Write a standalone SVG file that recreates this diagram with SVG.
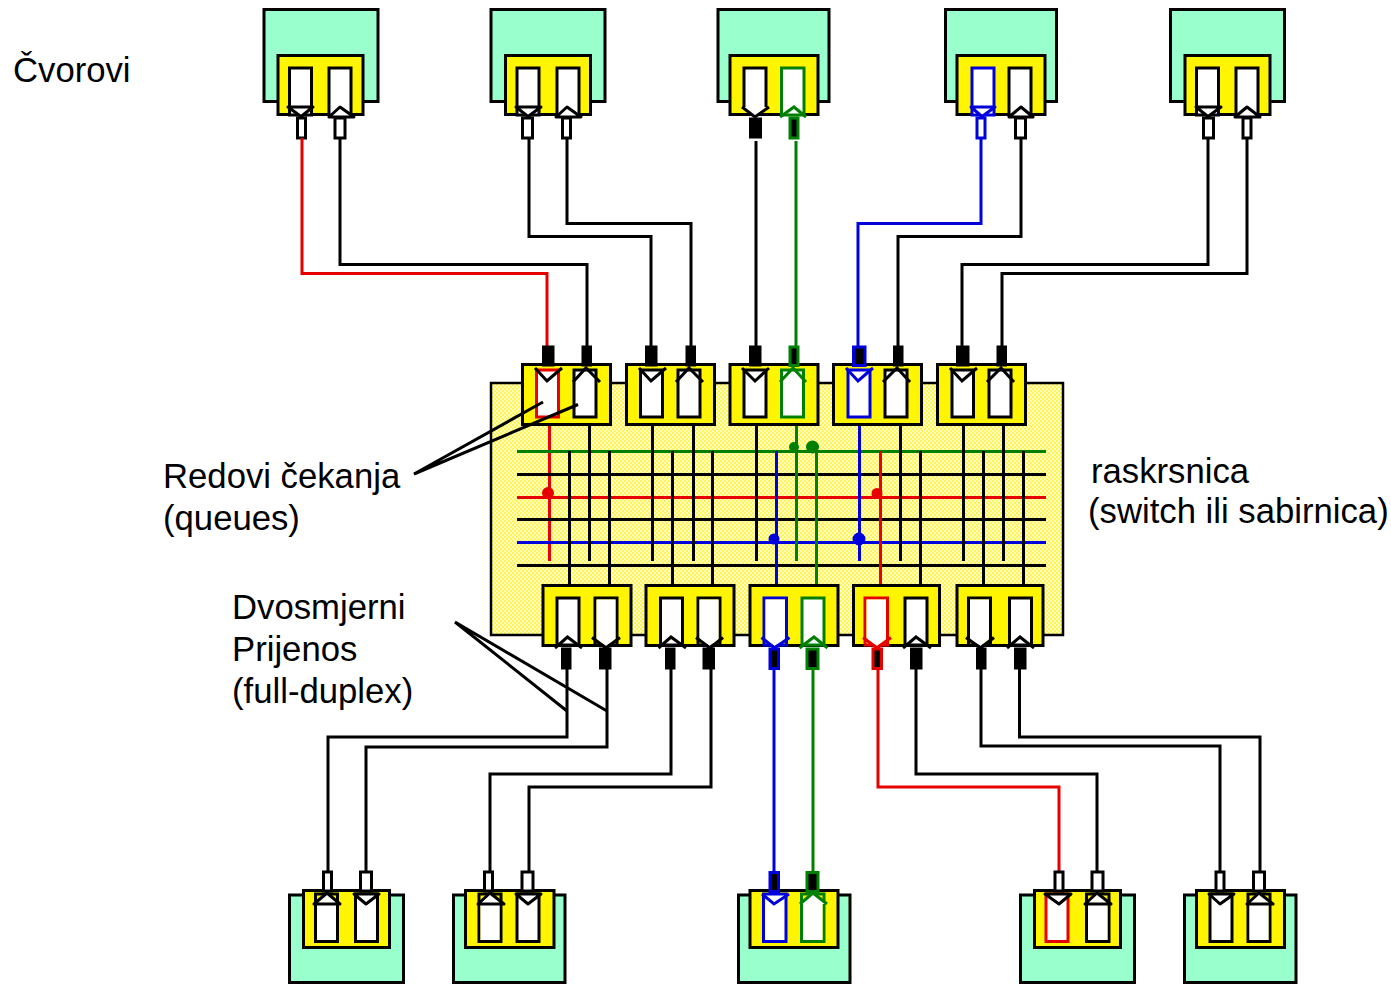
<svg xmlns="http://www.w3.org/2000/svg" width="1391" height="984" viewBox="0 0 1391 984">
<style>
text{font-family:"Liberation Sans",Arial,sans-serif;font-size:34.7px;fill:#000}
.n{fill:#99ffcc;stroke:#000;stroke-width:3}
.y{fill:#fff500;stroke:#000;stroke-width:3}
.q{fill:#fff;stroke:#000;stroke-width:3}
.qy{fill:#fff500;stroke:#000;stroke-width:3}
.w{fill:#fff;stroke:none}
.a{fill:#fff;stroke:#000;stroke-width:3;stroke-linejoin:round}
.l{fill:none;stroke:#000;stroke-width:3}
.p{fill:#fff;stroke:#000;stroke-width:3}
.f{fill:#000;stroke:#000;stroke-width:1}
.r{stroke:#e60000}
.b{stroke:#0000dd}
.g{stroke:#008000}
.k{fill:#000}
</style>
<defs>
<pattern id="dither" width="4" height="4" patternUnits="userSpaceOnUse">
<rect width="4" height="4" fill="#fffcc0"/>
<rect width="2" height="2" fill="#fff45a"/>
<rect x="2" y="2" width="2" height="2" fill="#fff45a"/>
</pattern>
</defs>

<g id="switch">
<rect x="491" y="383" width="572" height="252" fill="url(#dither)" stroke="#000" stroke-width="2.5"/>
</g>

<g id="top-nodes">
<g id="node-t1">
<rect class="n" x="264" y="9.5" width="114" height="92"/>
<rect class="y" x="278" y="55.5" width="85" height="59"/>
<rect class="q" x="289.500" y="68" width="22" height="47"/>
<rect class="q" x="329" y="68" width="22" height="47"/>
<polygon class="a" points="288,107 313,107 301,116.500"/>
<polygon class="a" points="329,117 340,107 354,117"/>
<rect class="p" x="297.500" y="118" width="8" height="20"/>
<rect class="p" x="335" y="118" width="10" height="20"/>
</g>
<g id="node-t2">
<rect class="n" x="491" y="9.500" width="114" height="92"/>
<rect class="y" x="505.500" y="55.5" width="85" height="59"/>
<rect class="q" x="517" y="68" width="22" height="47"/>
<rect class="q" x="557" y="68" width="22" height="47"/>
<polygon class="a" points="516,107 541,107 528,116.500"/>
<polygon class="a" points="556,117 567,107 581,117"/>
<rect class="p" x="522.500" y="118" width="10" height="20"/>
<rect class="p" x="562.500" y="118" width="8" height="20"/>
</g>
<g id="node-t3">
<rect class="n" x="718" y="9.500" width="111" height="92"/>
<rect class="y" x="730" y="55.5" width="88" height="59"/>
<polygon class="w" points="744,68 766,68 766,107 755,116 744,107"/>
<path class="l" d="M744 107V68H766V107"/>
<rect class="q g" x="781.500" y="68" width="22.500" height="47"/>
<polyline class="l" points="742,107 755,117 769,107"/>
<polyline class="l g" points="780,117 794,107 806,117"/>
<rect class="f" x="749.500" y="118" width="12" height="20"/>
<rect class="p g k" x="790" y="118" width="8" height="20"/>
</g>
<g id="node-t4">
<rect class="n" x="945.500" y="9.500" width="111" height="92"/>
<rect class="y" x="957" y="55.5" width="88" height="59"/>
<rect class="q b" x="972" y="68" width="22" height="47"/>
<rect class="q" x="1009" y="68" width="22" height="47"/>
<polygon class="a b" points="971,107 995,107 982,116.500"/>
<polygon class="a" points="1009,117 1021,107 1033,117"/>
<rect class="p b" x="977" y="118" width="8" height="20"/>
<rect class="p" x="1015.500" y="118" width="10" height="20"/>
</g>
<g id="node-t5">
<rect class="n" x="1170.500" y="9.500" width="114" height="92"/>
<rect class="y" x="1185" y="55.5" width="85" height="59"/>
<rect class="q" x="1196.500" y="68" width="22" height="47"/>
<rect class="q" x="1236" y="68" width="22" height="47"/>
<polygon class="a" points="1196,107 1221,107 1208,116.500"/>
<polygon class="a" points="1235,117 1247,107 1260,117"/>
<rect class="p" x="1203.500" y="118" width="10" height="20"/>
<rect class="p" x="1243" y="118" width="8" height="20"/>
</g>
</g>

<g id="connectors">
<g id="wires">
<polyline class="l r" points="302,138 302,273.500 547,273.500 547,347"/>
<polyline class="l" points="340,138 340,264.500 587,264.500 587,347"/>
<polyline class="l" points="529,138 529,236.500 651,236.500 651,347"/>
<polyline class="l" points="567,138 567,223.500 691,223.500 691,347"/>
<polyline class="l" points="756,141 756,347"/>
<polyline class="l g" points="796,141 796,347"/>
<polyline class="l b" points="981,138 981,223.500 858,223.500 858,347"/>
<polyline class="l" points="1021,138 1021,236.500 898,236.500 898,347"/>
<polyline class="l" points="1208,138 1208,264.500 962,264.500 962,347"/>
<polyline class="l" points="1247,138 1247,273.500 1002,273.500 1002,347"/>
<polyline class="l" points="567,669 567,737 328,737 328,872"/>
<polyline class="l" points="607,669 607,747 366,747 366,872"/>
<polyline class="l" points="671,669 671,774 490,774 490,872"/>
<polyline class="l" points="711,669 711,787 529,787 529,872"/>
<polyline class="l b" points="774,669 774,872"/>
<polyline class="l g" points="813,669 813,872"/>
<polyline class="l r" points="878,669 878,787 1059,787 1059,872"/>
<polyline class="l" points="916,669 916,774 1097,774 1097,872"/>
<polyline class="l" points="981,669 981,746 1220,746 1220,872"/>
<polyline class="l" points="1019.500,669 1019.500,737 1260,737 1260,872"/>
</g>
<g id="dots">
<circle cx="548" cy="493" r="6" fill="#e60000"/>
<circle cx="877" cy="493.500" r="5.500" fill="#e60000"/>
<circle cx="774" cy="539" r="5.500" fill="#0000dd"/>
<circle cx="859" cy="539" r="6.500" fill="#0000dd"/>
<circle cx="794" cy="447" r="5" fill="#008000"/>
<circle cx="812.500" cy="447" r="6.500" fill="#008000"/>
</g>
<g id="bus">
<line class="l r" x1="549.500" y1="420" x2="549.500" y2="561"/>
<line class="l" x1="517" y1="474.500" x2="1046" y2="474.500"/>
<line class="l r" x1="517" y1="497.500" x2="1046" y2="497.500"/>
<line class="l" x1="517" y1="519.500" x2="1046" y2="519.500"/>
<line class="l b" x1="517" y1="542.500" x2="1046" y2="542.500"/>
<line class="l" x1="517" y1="565.500" x2="1046" y2="565.500"/>
<line class="l g" x1="517" y1="451.500" x2="1046" y2="451.500"/>
<line class="l" x1="589.500" y1="420" x2="589.500" y2="561"/>
<line class="l" x1="652.500" y1="420" x2="652.500" y2="561"/>
<line class="l" x1="693.500" y1="420" x2="693.500" y2="561"/>
<line class="l" x1="756.500" y1="420" x2="756.500" y2="561"/>
<line class="l g" x1="796.500" y1="420" x2="796.500" y2="561"/>
<line class="l b" x1="859.500" y1="420" x2="859.500" y2="561"/>
<line class="l" x1="900.500" y1="420" x2="900.500" y2="561"/>
<line class="l" x1="963.500" y1="420" x2="963.500" y2="561"/>
<line class="l" x1="1003.500" y1="420" x2="1003.500" y2="561"/>
<line class="l" x1="569.500" y1="451" x2="569.500" y2="594"/>
<line class="l" x1="609.500" y1="451" x2="609.500" y2="594"/>
<line class="l" x1="672.500" y1="451" x2="672.500" y2="594"/>
<line class="l" x1="712.500" y1="451" x2="712.500" y2="594"/>
<line class="l b" x1="776.500" y1="451" x2="776.500" y2="594"/>
<line class="l g" x1="816.500" y1="451" x2="816.500" y2="594"/>
<line class="l r" x1="880.500" y1="451" x2="880.500" y2="594"/>
<line class="l" x1="920.500" y1="451" x2="920.500" y2="594"/>
<line class="l" x1="983.500" y1="451" x2="983.500" y2="594"/>
<line class="l" x1="1023.500" y1="451" x2="1023.500" y2="594"/>
</g>
</g>

<g id="switch-top-ports">
<g id="st1">
<rect class="y" x="522.500" y="364.500" width="88" height="60"/>
<rect class="q r" x="536.500" y="370" width="22" height="47"/>
<rect class="q" x="574" y="370" width="22" height="47"/>
<polyline class="l" points="535,368 547,381 562,368"/>
<polyline class="l" points="573,382 586,368 600,382"/>
<rect class="f" x="542.500" y="346" width="11.500" height="20"/>
<rect class="f" x="582" y="346" width="9.500" height="20"/>
</g>
<g id="st2">
<rect class="y" x="626.500" y="364.500" width="88" height="60"/>
<rect class="q" x="640.500" y="370" width="22" height="47"/>
<rect class="q" x="678" y="370" width="22" height="47"/>
<polyline class="l" points="639,368 651,381 666,368"/>
<polyline class="l" points="676,382 689,368 703,382"/>
<rect class="f" x="645.500" y="346" width="11.500" height="20"/>
<rect class="f" x="686" y="346" width="9.500" height="20"/>
</g>
<g id="st3">
<rect class="y" x="730" y="364.500" width="88" height="60"/>
<rect class="q" x="744" y="370" width="22" height="47"/>
<rect class="q g" x="781.500" y="370" width="22" height="47"/>
<polyline class="l" points="742,368 755,381 769,368"/>
<polyline class="l g" points="780,382 793,368 806,382"/>
<rect class="f" x="749.500" y="346" width="11.500" height="20"/>
<rect class="p g k" x="790" y="347" width="8" height="18.500"/>
</g>
<g id="st4">
<rect class="y" x="833.500" y="364.500" width="88" height="60"/>
<rect class="q b" x="848" y="370" width="22" height="47"/>
<rect class="q" x="885" y="370" width="22" height="47"/>
<polyline class="l b" points="846,368 858,381 873,368"/>
<polyline class="l" points="883,382 897,368 910,382"/>
<rect class="p b k" x="853.500" y="347" width="11.500" height="18.500"/>
<rect class="f" x="893.500" y="346" width="9.500" height="20"/>
</g>
<g id="st5">
<rect class="y" x="937.500" y="364.500" width="88" height="60"/>
<rect class="q" x="952" y="370" width="21.500" height="47"/>
<rect class="q" x="989" y="370" width="22" height="47"/>
<polyline class="l" points="950,368 962,381 977,368"/>
<polyline class="l" points="987,382 1001,368 1014,382"/>
<rect class="f" x="956.500" y="346" width="12.500" height="20"/>
<rect class="f" x="997" y="346" width="9.500" height="20"/>
</g>
</g>

<g id="switch-bottom-ports">
<g id="sb1">
<rect class="y" x="543" y="585.500" width="88" height="60"/>
<rect class="q" x="557" y="598" width="22" height="47"/>
<rect class="qy" x="595" y="598" width="22" height="47"/>
<polygon class="w" points="596.500,599.500 615.500,599.500 615.500,639 606,646 596.500,639"/>
<polyline class="l" points="555,648 567.500,637 582,648"/>
<polyline class="l" points="592,637.500 606,648 620,637.500"/>
<rect class="f" x="561.500" y="648" width="9.500" height="21"/>
<rect class="f" x="599.500" y="648" width="11.500" height="21"/>
</g>
<g id="sb2">
<rect class="y" x="646" y="585.500" width="88" height="60"/>
<rect class="q" x="660.500" y="598" width="22" height="47"/>
<rect class="qy" x="698" y="598" width="22" height="47"/>
<polygon class="w" points="699.500,599.500 718.500,599.500 718.500,639 709.500,646 699.500,639"/>
<polyline class="l" points="658.500,648 671,637 686,648"/>
<polyline class="l" points="696,637.500 710,648 723,637.500"/>
<rect class="f" x="665.500" y="648" width="9.500" height="21"/>
<rect class="f" x="703" y="648" width="11.500" height="21"/>
</g>
<g id="sb3">
<rect class="y" x="750" y="585.500" width="88" height="60"/>
<rect class="qy b" x="764" y="598" width="22.500" height="47"/>
<polygon class="w" points="765.500,599.500 785,599.500 785,639 774.500,646 765.500,639"/>
<rect class="q g" x="802" y="598" width="22" height="47"/>
<polyline class="l b" points="761.500,637.500 774.500,648 789.500,637.500"/>
<polyline class="l g" points="799.500,648 814,637 827.500,648"/>
<rect class="p b k" x="770" y="649" width="8.500" height="19.500"/>
<rect class="p g k" x="807" y="649" width="11" height="19.500"/>
</g>
<g id="sb4">
<rect class="y" x="853.500" y="585.500" width="86" height="60"/>
<rect class="qy r" x="865" y="598" width="22.500" height="47"/>
<polygon class="w" points="866.500,599.500 886,599.500 886,639 877,646 866.500,639"/>
<rect class="q" x="905" y="598" width="22" height="47"/>
<polyline class="l r" points="863,637.500 877,648 891,637.500"/>
<polyline class="l" points="903,648 916,637 931,648"/>
<rect class="p r k" x="873" y="649" width="8.500" height="19.500"/>
<rect class="f" x="910.500" y="648" width="11.500" height="21"/>
</g>
<g id="sb5">
<rect class="y" x="957" y="585.500" width="86" height="60"/>
<rect class="qy" x="968.500" y="598" width="22" height="47"/>
<polygon class="w" points="970,599.500 989,599.500 989,639 980.500,646 970,639"/>
<rect class="q" x="1009.500" y="598" width="22" height="47"/>
<polyline class="l" points="966,637.500 980.500,648 994,637.500"/>
<polyline class="l" points="1007,648 1020,637 1034,648"/>
<rect class="f" x="976.500" y="648" width="9.500" height="21"/>
<rect class="f" x="1014.500" y="648" width="11.500" height="21"/>
</g>
</g>

<g id="bottom-nodes">
<g id="node-b1">
<rect class="n" x="289.500" y="895" width="114" height="87.500"/>
<rect class="y" x="303.500" y="890.500" width="86" height="57"/>
<rect class="qy" x="315.500" y="894" width="22" height="47.500"/>
<rect class="w" x="317" y="904" width="19" height="36"/>
<rect class="q" x="355.500" y="894" width="22" height="47.500"/>
<polygon class="a" points="314,904 327,893 340,904"/>
<polygon class="a" points="354,894 379,894 366,904"/>
<rect class="p" x="323.500" y="872" width="8" height="19"/>
<rect class="p" x="360.500" y="872" width="11" height="19"/>
</g>
<g id="node-b2">
<rect class="n" x="453.500" y="895" width="111.500" height="87.500"/>
<rect class="y" x="465.500" y="890.500" width="88.500" height="57"/>
<rect class="qy" x="479" y="894" width="22" height="47.500"/>
<rect class="w" x="480.500" y="904" width="19" height="36"/>
<rect class="q" x="517" y="894" width="22" height="47.500"/>
<polygon class="a" points="478,904 490,893 504,904"/>
<polygon class="a" points="516,894 541,894 528,904"/>
<rect class="p" x="484.500" y="872" width="8" height="19"/>
<rect class="p" x="522" y="872" width="11" height="19"/>
</g>
<g id="node-b3">
<rect class="n" x="738.500" y="895" width="111.500" height="87.500"/>
<rect class="y" x="750" y="890.500" width="88" height="57"/>
<rect class="q b" x="763.500" y="894" width="22.500" height="47.500"/>
<rect class="qy g" x="801.500" y="894" width="22.500" height="47.500"/>
<rect class="w" x="803" y="904" width="19.500" height="36"/>
<polyline class="l b" points="762,894 774,904 789,894"/>
<polyline class="a g" points="800,904 813,893 827,904"/>
<rect class="p b k" x="770" y="872.500" width="8.500" height="19"/>
<rect class="p g k" x="807" y="872.500" width="11" height="19"/>
</g>
<g id="node-b4">
<rect class="n" x="1020.500" y="895" width="114" height="87.500"/>
<rect class="y" x="1034.500" y="890.500" width="86" height="57"/>
<rect class="q r" x="1046" y="894" width="22" height="47.500"/>
<rect class="qy" x="1086.500" y="894" width="22.500" height="47.500"/>
<rect class="w" x="1088" y="904" width="19.500" height="36"/>
<polygon class="a" points="1045,894 1071,894 1059,904"/>
<polygon class="a" points="1085,904 1097,893 1111,904"/>
<rect class="p" x="1055" y="872" width="8" height="19"/>
<rect class="p" x="1092" y="872" width="11" height="19"/>
</g>
<g id="node-b5">
<rect class="n" x="1184.500" y="895" width="111.500" height="87.500"/>
<rect class="y" x="1196.500" y="890.500" width="88" height="57"/>
<rect class="q" x="1210" y="894" width="22" height="47.500"/>
<rect class="qy" x="1248" y="894" width="22" height="47.500"/>
<rect class="w" x="1249.500" y="904" width="19" height="36"/>
<polygon class="a" points="1209,894 1234,894 1220,904"/>
<polygon class="a" points="1247,904 1259,893 1273,904"/>
<rect class="p" x="1216" y="872" width="8" height="19"/>
<rect class="p" x="1253.500" y="872" width="11" height="19"/>
</g>
</g>

<g id="leaders">
<polyline class="l" points="578,404.500 414,474 543,402"/>
<polyline class="l" points="567,711 455,622 607,711"/>
</g>

<g id="labels">
<text x="13" y="82">Čvorovi</text>
<text x="163" y="488">Redovi čekanja</text>
<text x="163" y="530">(queues)</text>
<text x="1091" y="483">raskrsnica</text>
<text x="1088" y="523">(switch ili sabirnica)</text>
<text x="232" y="619">Dvosmjerni</text>
<text x="232" y="661">Prijenos</text>
<text x="232" y="703">(full-duplex)</text>
</g>
</svg>
